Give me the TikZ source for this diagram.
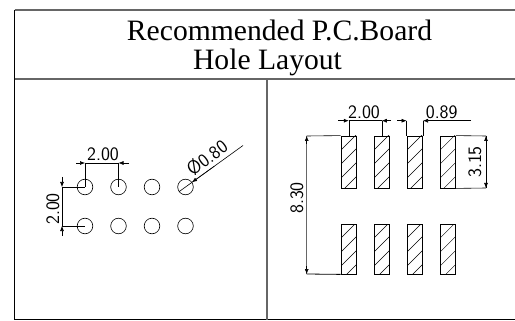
\documentclass[tikz,border=0pt]{standalone}
\usepackage{fontspec}
\setmainfont{Liberation Serif}
\usetikzlibrary{arrows.meta}
\usetikzlibrary{calc}

\tikzset{
  frameline/.style={line width=1.2pt,black},
  softline/.style={line width=1.2pt,black!60},
  holedot/.style={circle,draw,line width=0.6pt,minimum size=15.6pt,inner sep=0pt},
  padbox/.style={rectangle,draw,line width=0.8pt,minimum width=15.6pt,minimum height=#1,inner sep=0pt,
    path picture={
      \foreach \k in {1,...,5}
        \draw[line width=0.4pt] ($(path picture bounding box.north west)+(0,\k*14)$) -- ++(18,-18);
    }},
  dimline/.style={line width=0.6pt},
  dimtip/.style={line width=0.6pt,-{Latex[length=5pt,width=4pt]}},
  dimtext/.style={font=\sffamily\fontsize{19}{19}\selectfont,inner sep=0pt},
  titletext/.style={font=\fontsize{29.6}{29.6}\selectfont,anchor=base,inner sep=0pt}
}

\begin{document}
\begin{tikzpicture}[x=1pt,y=-1pt]
    \useasboundingbox (0,0) rectangle (515,321);
    % frame
    \coordinate (topl) at (14.5,10);
    \coordinate (topr) at (515,10);
    \coordinate (botl) at (14.5,319.5);
    \coordinate (botr) at (515,319.5);
    \coordinate (midl) at (14.5,79);
    \coordinate (midr) at (515,79);
    \coordinate (midt) at (267,79);
    \coordinate (midb) at (267,319.5);
    \draw[softline] (topl) -- (topr);
    \draw[frameline] (topl) -- (botl) -- (botr);
    \draw[softline] (midl) -- (midr);
    \draw[softline] (midt) -- (midb);
    \node[titletext] (title) at (279.5,40.5) {Recommended P.C.Board};
    \node[titletext] (titleb) at (267.5,70) {Hole Layout};

    % left view
    \foreach \i/\x in {1/85,2/118.5,3/152,4/185.5} {
      \node[holedot] (t\i) at (\x,187) {};
      \node[holedot] (b\i) at (\x,226) {};
    }
    \coordinate (ha) at (76,163);
    \coordinate (hb) at (129,163);
    \coordinate (ta) at (62,177);
    \coordinate (tb) at (62,236);
    \coordinate (dia) at (243,145.5);
    \draw[dimline] (t1.center |- ha) -- (t1.center);
    \draw[dimline] (t2.center |- ha) -- (t2.center);
    \draw[dimline] (t1.center |- ha) -- (t2.center |- ha);
    \draw[dimtip] (ha) -- (t1.center |- ha);
    \draw[dimtip] (hb) -- (t2.center |- ha);
    \draw[dimline] (t1.center -| ta) -- (t1.center);
    \draw[dimline] (b1.center -| ta) -- (b1.center);
    \draw[dimline] (t1.center -| ta) -- (b1.center -| ta);
    \draw[dimtip] (ta) -- (t1.center -| ta);
    \draw[dimtip] (tb) -- (b1.center -| ta);
    \draw[dimline] (t4.216.5) -- (dia);
    \draw[dimtip] ($(t4.center)!0.5!(dia)$) -- (t4.36.5);
    \node[dimtext] (holex) at (103,154) {2.00};
    \node[dimtext,rotate=90] (holey) at (53,209) {2.00};
    \node[dimtext,rotate=37] (holed) at (207,158) {Ø0.80};

    % right view
    \foreach \i/\x in {1/348.8,2/381.8,3/414.8,4/448} {
      \node[padbox=52pt] (u\i) at (\x,162) {};
      \node[padbox=50pt] (v\i) at (\x,249) {};
    }
    \coordinate (pa) at (338,120.7);
    \coordinate (pb) at (391,120.7);
    \coordinate (wa) at (397,120.7);
    \coordinate (wb) at (471,120.7);
    \coordinate (ra) at (486,136);
    \coordinate (rb) at (486,188);
    \coordinate (la) at (306.7,136);
    \coordinate (lb) at (306.7,274);
    \draw[dimline] (u1.north |- pa) -- (u1.north);
    \draw[dimline] (u2.north |- pa) -- (u2.north);
    \draw[dimline] (u1.north |- pa) -- (u2.north |- pa);
    \draw[dimtip] (pa) -- (u1.north |- pa);
    \draw[dimtip] (pb) -- (u2.north |- pa);
    \draw[dimline] (u3.north west |- wa) -- (u3.north west);
    \draw[dimline] (u3.north east |- wa) -- (u3.north east);
    \draw[dimtip] (wa) -- (u3.north west |- wa);
    \draw[dimtip] (wb) -- (u3.north east |- wa);
    \draw[dimline] (u4.north east) -- (ra);
    \draw[dimline] (u4.south east) -- (rb);
    \draw[dimline] (ra) -- (rb);
    \draw[dimtip] ($(ra)+(0,8)$) -- (ra);
    \draw[dimtip] ($(rb)+(0,-8)$) -- (rb);
    \draw[dimline] (u1.north west) -- (la);
    \draw[softline,line width=0.9pt] (la) -- (lb);
    \draw[dimline,line width=0.8pt] (lb) -- (v1.south west);
    \draw[dimtip] ($(la)+(0,8)$) -- (la);
    \draw[dimtip] ($(lb)+(0,-8)$) -- (lb);
    \node[dimtext] (padx) at (364,112) {2.00};
    \node[dimtext] (padw) at (441.7,112) {0.89};
    \node[dimtext,rotate=90] (padh) at (475,162) {3.15};
    \node[dimtext,rotate=90] (padl) at (297,198) {8.30};
\end{tikzpicture}
\end{document}
